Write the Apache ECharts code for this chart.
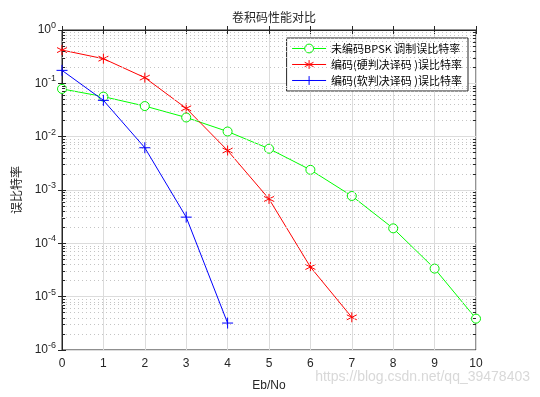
<!DOCTYPE html>
<html lang="zh">
<head>
    <meta charset="UTF-8">
    <title>卷积码性能对比</title>
    <script src="https://cdn.jsdelivr.net/npm/echarts@6/dist/echarts.min.js"></script>
    <style>
        html, body { margin: 0; padding: 0; background: #fff; }
        #main { width: 540px; height: 397px; }
    </style>
</head>
<body>
<div id="main"></div>
<script>
    // Eb/No 取值 (dB)
    var ebno = [0, 1, 2, 3, 4, 5, 6, 7, 8, 9, 10];
    // 未编码 BPSK 误比特率
    var berUncoded = [0.0786, 0.0563, 0.0375, 0.0229, 0.0125, 0.00595, 0.00239, 0.000773, 0.000191, 0.0000336, 0.00000387];
    // 硬判决译码
    var berHard = [0.42, 0.29, 0.128, 0.034, 0.0055, 0.00068, 0.000036, 0.0000041];
    // 软判决译码
    var berSoft = [0.175, 0.048, 0.0062, 0.00031, 0.0000032];

    var seriesNames = ['未编码BPSK 调制误比特率', '编码(硬判决译码 )误比特率', '编码(软判决译码 )误比特率'];

    // 纵轴用 log10(误比特率) 表示，范围 10^-6 .. 10^0
    function pairs(ys) {
        return ys.map(function (y, i) { return [ebno[i], Math.log10(y)]; });
    }

    // 次网格线与次刻度 (2..9 × 10^k)
    var minorLines = [], minorTicks = [];
    for (var e = -6; e < 0; e++) {
        for (var m = 2; m <= 9; m++) {
            var v = e + Math.log10(m);
            minorLines.push({ yAxis: v });
            minorTicks.push([{ coord: [0, v] }, { coord: [0.075, v] }]);
            minorTicks.push([{ coord: [9.925, v] }, { coord: [10, v] }]);
        }
    }

    var chart = echarts.init(document.getElementById('main'));
    var font = 'Liberation Sans, Arial, Noto Sans CJK SC, sans-serif';

    function expLabel(v) {
        return '{b|10}{s|' + Math.round(v) + '}';
    }
    var labelRich = {
        b: { fontSize: 12, color: '#262626', fontFamily: font },
        s: { fontSize: 9, color: '#262626', fontFamily: font, padding: [0, 0, 9, 0] }
    };

    chart.setOption({
        animation: false,
        textStyle: { fontFamily: font },
        title: {
            text: '卷积码性能对比',
            left: 269, top: 6, textAlign: 'center',
            textStyle: { fontSize: 12, fontWeight: 'normal', color: '#262626', fontFamily: 'Noto Sans CJK SC' }
        },
        legend: {
            data: seriesNames,
            orient: 'vertical',
            right: 72, top: 38,
            backgroundColor: '#fff',
            borderColor: '#262626', borderWidth: 1,
            padding: [5, 6, 5, 5],
            itemGap: 5, itemWidth: 34, itemHeight: 11,
            lineStyle: { width: 1 },
            itemStyle: { borderWidth: 1 },
            textStyle: { fontSize: 11, color: '#000', fontFamily: 'Noto Sans CJK SC' }
        },
        grid: { left: 62, right: 64, top: 30, bottom: 44, show: true, borderColor: '#262626', borderWidth: 1 },
        xAxis: [{
            type: 'value', min: 0, max: 10, interval: 1,
            name: 'Eb/No', nameLocation: 'middle', nameGap: 30,
            nameTextStyle: { fontSize: 12, color: '#262626' },
            axisLine: { lineStyle: { color: '#262626' } },
            axisTick: { inside: true, length: 4, lineStyle: { color: '#262626' } },
            axisLabel: { fontSize: 12, color: '#262626', margin: 8 },
            splitLine: { show: true, lineStyle: { color: '#dcdcdc' } }
        }, {
            type: 'value', min: 0, max: 10, interval: 1, position: 'top',
            axisLine: { lineStyle: { color: '#262626' } },
            axisTick: { inside: true, length: 4, lineStyle: { color: '#262626' } },
            axisLabel: { show: false }, splitLine: { show: false }
        }],
        yAxis: [{
            type: 'value', min: -6, max: 0, interval: 1,
            name: '误比特率', nameLocation: 'middle', nameGap: 40, nameRotate: 90,
            nameTextStyle: { fontSize: 12, color: '#262626', fontFamily: 'Noto Sans CJK SC' },
            axisLine: { show: true, lineStyle: { color: '#262626' } },
            axisTick: { inside: true, length: 4, lineStyle: { color: '#262626' } },
            axisLabel: { formatter: expLabel, rich: labelRich, margin: 6 },
            splitLine: { show: true, lineStyle: { color: '#dcdcdc' } }
        }, {
            type: 'value', min: -6, max: 0, interval: 1, position: 'right',
            axisLine: { show: true, lineStyle: { color: '#262626' } },
            axisTick: { inside: true, length: 4, lineStyle: { color: '#262626' } },
            axisLabel: { show: false }, splitLine: { show: false }
        }],
        series: [{
            name: seriesNames[0], type: 'line', data: pairs(berUncoded),
            color: '#00ff00', lineStyle: { width: 1, color: '#00ff00' },
            symbol: 'circle', symbolSize: 9,
            itemStyle: { color: '#fff', borderColor: '#00ee00', borderWidth: 1 },
            markLine: {
                silent: true, symbol: 'none', label: { show: false },
                lineStyle: { color: '#c4c4c4', type: [1, 3], width: 1 },
                data: minorLines, animation: false
            },
            z: 3
        }, {
            name: seriesNames[1], type: 'line', data: pairs(berHard),
            color: '#ff0000', lineStyle: { width: 1 },
            symbol: 'path://M0,-5L0,5M-4.33,-2.5L4.33,2.5M-4.33,2.5L4.33,-2.5', symbolSize: 10,
            itemStyle: { borderColor: '#ff0000', borderWidth: 1 },
            markLine: {
                silent: true, symbol: 'none', label: { show: false },
                lineStyle: { color: '#262626', type: 'solid', width: 1 },
                data: minorTicks, animation: false
            },
            z: 4
        }, {
            name: seriesNames[2], type: 'line', data: pairs(berSoft),
            color: '#0000ff', lineStyle: { width: 1 },
            symbol: 'path://M0,-5L0,5M-5,0L5,0', symbolSize: 11,
            itemStyle: { borderColor: '#0000ff', borderWidth: 1 },
            z: 5
        }],
        graphic: [{
            type: 'text', right: 10, top: 370, silent: true,
            style: { text: 'https://blog.csdn.net/qq_39478403', fontSize: 14, fill: 'rgba(190,190,190,0.6)', fontFamily: font }
        }]
    });
</script>
</body>
</html>
